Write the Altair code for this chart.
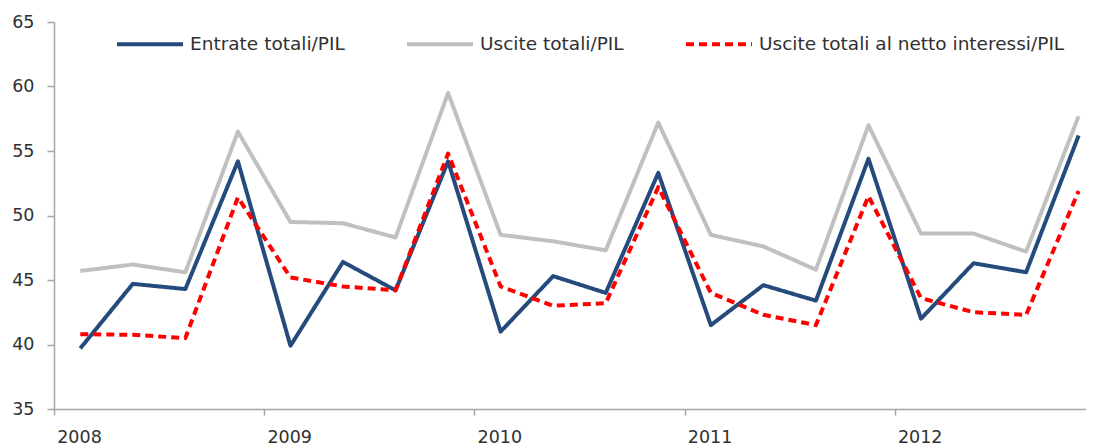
import altair as alt
import pandas as pd

years = ["2008", "2009", "2010", "2011", "2012"]
quarters = [f"{y}Q{q}" for y in years for q in range(1, 5)]
series_names = ["Entrate totali/PIL", "Uscite totali/PIL", "Uscite totali al netto interessi/PIL"]
entrate = [39.7, 44.7, 44.3, 54.2, 39.9, 46.4, 44.2, 54.2, 41.0, 45.3, 44.0, 53.3,
           41.5, 44.6, 43.4, 54.4, 42.0, 46.3, 45.6, 56.2]
uscite = [45.7, 46.2, 45.6, 56.5, 49.5, 49.4, 48.3, 59.5, 48.5, 48.0, 47.3, 57.2,
          48.5, 47.6, 45.8, 57.0, 48.6, 48.6, 47.2, 57.7]
netto = [40.8, 40.75, 40.5, 51.4, 45.2, 44.5, 44.2, 54.8, 44.5, 43.0, 43.2, 52.2,
         44.0, 42.3, 41.5, 51.5, 43.6, 42.5, 42.3, 51.9]
colors = ["#254A7C", "#C0C0C0", "#FF0000"]

rows = []
for name, vals in zip(series_names, [entrate, uscite, netto]):
    for i, (q, v) in enumerate(zip(quarters, vals)):
        rows.append({"serie": name, "trimestre": q, "pos": i + 0.5, "valore": v})
df = pd.DataFrame(rows)

FONT = "DejaVu Sans"
AXIS_COLOR = "#A6A6A6"

chart = alt.Chart(df).mark_line(strokeJoin="round").encode(
    x=alt.X("pos:Q",
            scale=alt.Scale(domain=[0, 19.64], nice=False, zero=False),
            axis=alt.Axis(values=[0, 4, 8, 12, 16],
                          labelExpr="'' + (2008 + datum.value / 4)",
                          labelOffset=25, labelAlign="center",
                          tickSize=6, labelPadding=13, grid=False,
                          title=None)),
    y=alt.Y("valore:Q",
            scale=alt.Scale(domain=[35, 65], nice=False, zero=False),
            axis=alt.Axis(values=[35, 40, 45, 50, 55, 60, 65], tickSize=7,
                          labelPadding=13, grid=False, title=None)),
    color=alt.Color("serie:N", sort=series_names,
                    scale=alt.Scale(domain=series_names, range=colors),
                    legend=alt.Legend(title=None)),
    strokeDash=alt.StrokeDash("serie:N", sort=series_names,
                              scale=alt.Scale(domain=series_names,
                                              range=[[1, 0], [1, 0], [8, 5]]),
                              legend=alt.Legend(title=None)),
    strokeWidth=alt.StrokeWidth("serie:N",
                                scale=alt.Scale(domain=series_names, range=[4, 4, 3]),
                                legend=None),
    detail="serie:N",
).properties(
    width=1032,
    height=387,
    autosize=alt.AutoSizeParams(type="none"),
    padding={"left": 46, "top": 14, "right": 0, "bottom": 36},
).configure_view(
    strokeWidth=0
).configure_axis(
    domainColor=AXIS_COLOR, tickColor=AXIS_COLOR, domainWidth=1.5, tickWidth=1.5,
    labelFont=FONT, labelFontSize=17.5, labelColor="#303030"
).configure_legend(
    orient="none", legendX=61, legendY=-13, direction="horizontal",
    symbolType="stroke", symbolSize=4356, symbolStrokeWidth=4,
    labelFont=FONT, labelFontSize=18.5, labelColor="#303030",
    labelOffset=5, columnPadding=54, padding=0, labelLimit=500
)

chart.save("out.html", embed_options={"renderer": "svg", "actions": False})
